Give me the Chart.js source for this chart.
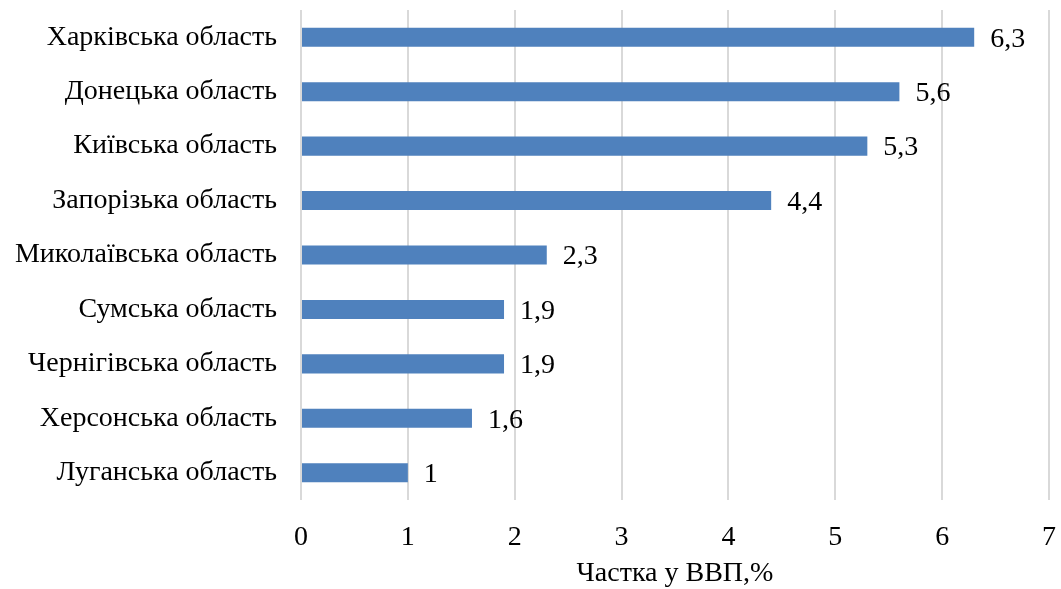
<!DOCTYPE html>
<html>
<head>
<meta charset="utf-8">
<script src="https://cdn.jsdelivr.net/npm/chart.js@4/dist/chart.umd.min.js"></script>
<style>
  html, body { margin: 0; padding: 0; background: #fff; }
  #wrap { width: 1061px; height: 589px; position: relative; }
</style>
</head>
<body>
<div id="wrap"><canvas id="myChart"></canvas></div>
<script>
// regions and their share of GDP
const regions = [
  'Харківська область',
  'Донецька область',
  'Київська область',
  'Запорізька область',
  'Миколаївська область',
  'Сумська область',
  'Чернігівська область',
  'Херсонська область',
  'Луганська область'
];
const shares = [6.3, 5.6, 5.3, 4.4, 2.3, 1.9, 1.9, 1.6, 1];
const xTicks = [0, 1, 2, 3, 4, 5, 6, 7];
const axisTitle = 'Частка у ВВП,%';

const FONT = "'Liberation Serif', 'Times New Roman', serif";
const FSIZE = 28;

// value labels at the end of each bar
const barLabels = {
  id: 'barLabels',
  afterDatasetsDraw(chart) {
    const ctx = chart.ctx;
    const meta = chart.getDatasetMeta(0);
    ctx.save();
    ctx.font = FSIZE + 'px ' + FONT;
    ctx.fillStyle = '#000';
    ctx.textAlign = 'left';
    ctx.textBaseline = 'middle';
    meta.data.forEach(function (bar, i) {
      const txt = String(shares[i]).replace('.', ',');
      ctx.fillText(txt, bar.x + 16, bar.y + 2);
    });
    ctx.restore();
  }
};

const config = {
  type: 'bar',
  data: {
    labels: regions,
    datasets: [{
      data: shares,
      backgroundColor: '#4F81BD',
      borderWidth: 0,
      categoryPercentage: 1,
      barPercentage: 0.35
    }]
  },
  options: {
    indexAxis: 'y',
    responsive: false,
    animation: false,
    devicePixelRatio: 1,
    layout: { padding: { top: 10, right: 12, left: 0, bottom: 0 } },
    plugins: {
      legend: { display: false },
      tooltip: { enabled: false }
    },
    scales: {
      x: {
        min: 0,
        max: 7,
        afterBuildTicks(scale) {
          scale.ticks = xTicks.map(function (v) { return { value: v }; });
        },
        afterFit(scale) {
          scale.height = 89;
          scale.paddingLeft = 0;
          scale.paddingRight = 0;
        },
        grid: { color: '#D9D9D9', lineWidth: 2, drawTicks: false },
        border: { display: false },
        ticks: {
          color: '#000',
          font: { family: FONT, size: FSIZE },
          padding: 21
        },
        title: {
          display: true,
          text: axisTitle,
          color: '#000',
          font: { family: FONT, size: FSIZE },
          padding: { top: 4, bottom: -1 }
        }
      },
      y: {
        afterFit(scale) {
          scale.width = 301;
          scale.paddingTop = 0;
          scale.paddingBottom = 0;
        },
        grid: { display: false, drawTicks: false },
        border: { display: false },
        ticks: {
          color: '#000',
          font: { family: FONT, size: FSIZE },
          padding: 24
        }
      }
    }
  },
  plugins: [barLabels]
};

const canvas = document.getElementById('myChart');
canvas.width = 1061;
canvas.height = 589;
var myChart = new Chart(canvas, config);
</script>
</body>
</html>
